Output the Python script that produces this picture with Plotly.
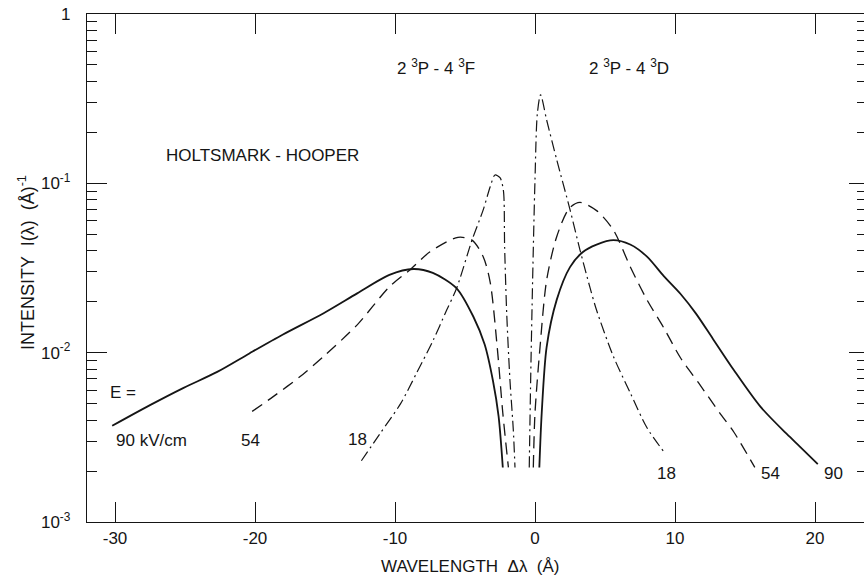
import plotly.graph_objects as go

# Holtsmark-Hooper profiles of the He I 2 3P - 4 3F / 2 3P - 4 3D pair
# wavelength offset (Angstrom) and intensity (1/Angstrom), one branch per component

# E = 90 kV/cm (solid)
x90_f = [-30.2, -27.5, -25.1, -22.7, -20.4, -18.0, -15.1, -12.7, -10.4, -8.7, -7.3, -5.6, -4.4, -3.6, -3.0, -2.6, -2.3]
i90_f = [0.0037, 0.0049, 0.0062, 0.0077, 0.0099, 0.0128, 0.0171, 0.0224, 0.0288, 0.0312, 0.0296, 0.0240, 0.0163, 0.0112, 0.0068, 0.0042, 0.0021]
x90_d = [0.31, 0.48, 0.83, 1.55, 2.5, 3.4, 4.4, 5.6, 6.8, 8.0, 9.2, 10.4, 11.5, 12.7, 14.2, 16.1, 18.0, 18.9, 20.2]
i90_d = [0.0021, 0.0044, 0.0108, 0.0205, 0.0320, 0.0392, 0.0435, 0.0462, 0.0435, 0.0369, 0.0283, 0.0222, 0.0170, 0.0121, 0.0079, 0.0048, 0.0033, 0.0028, 0.0022]

# E = 54 kV/cm (dashed)
x54_f = [-20.2, -18.7, -16.8, -15.1, -12.7, -10.4, -8.9, -7.5, -5.5, -4.5, -3.7, -3.2, -2.7, -2.3, -1.9]
i54_f = [0.0045, 0.0055, 0.0072, 0.0095, 0.0146, 0.0245, 0.0310, 0.0394, 0.0480, 0.0462, 0.0369, 0.0260, 0.0108, 0.0044, 0.0021]
x54_d = [-0.12, 0.0, 0.36, 0.83, 1.55, 2.45, 3.21, 4.4, 5.6, 6.8, 8.0, 9.2, 10.4, 11.7, 13.2, 14.2, 15.7]
i54_d = [0.0021, 0.0044, 0.0108, 0.0268, 0.0484, 0.0713, 0.0772, 0.0690, 0.0530, 0.0322, 0.0205, 0.0140, 0.0093, 0.0066, 0.0044, 0.0034, 0.0021]

# E = 18 kV/cm (dash-dot)
x18_f = [-12.4, -11.1, -9.6, -8.45, -7.26, -6.3, -5.6, -4.5, -3.7, -3.2, -2.86, -2.5, -2.26, -2.17, -2.02, -1.79, -1.55, -1.43]
i18_f = [0.0023, 0.0033, 0.0050, 0.0076, 0.0119, 0.0179, 0.0240, 0.0462, 0.0697, 0.0955, 0.112, 0.108, 0.0912, 0.0423, 0.0170, 0.0069, 0.0035, 0.0021]
x18_d = [-0.41, -0.31, -0.17, 0.0, 0.17, 0.4, 0.83, 1.55, 2.5, 3.21, 3.93, 4.4, 5.6, 6.8, 8.0, 9.2]
i18_d = [0.0021, 0.0069, 0.0268, 0.105, 0.259, 0.333, 0.237, 0.138, 0.0700, 0.0405, 0.0242, 0.0178, 0.0095, 0.0058, 0.0036, 0.0026]

x_ticks = [-30, -20, -10, 0, 10, 20]
x_tick_text = ["-30", "-20", "-10", "0", "10", "20"]
y_ticks = [0.001, 0.01, 0.1, 1]
y_tick_text = ["10<sup>-3</sup>", "10<sup>-2</sup>", "10<sup>-1</sup>", "1"]
y_minor = [k * 10.0 ** n for n in (-3, -2, -1) for k in range(2, 10)]

INK = "#151515"
FONT = "Liberation Sans"
SIZE = 17

styles = {
    "90": dict(color=INK, width=1.8, dash="solid"),
    "54": dict(color=INK, width=1.3, dash="12px,7px"),
    "18": dict(color=INK, width=1.2, dash="11px,4px,2px,4px"),
}
branches = [
    ("90", x90_f, i90_f), ("90", x90_d, i90_d),
    ("54", x54_f, i54_f), ("54", x54_d, i54_d),
    ("18", x18_f, i18_f), ("18", x18_d, i18_d),
]

fig = go.Figure()
for field, xs, ys in branches:
    fig.add_trace(go.Scatter(
        x=xs, y=ys, mode="lines", name=f"{field} kV/cm",
        line=dict(shape="spline", smoothing=0.8, **styles[field]),
        showlegend=False, hoverinfo="skip",
    ))

# right-hand frame: tick marks only, on an overlaid log axis
fig.add_trace(go.Scatter(x=[x_ticks[0]], y=[y_ticks[0]], yaxis="y2", mode="lines",
                         showlegend=False, hoverinfo="skip", line=dict(width=0)))

def label(text, x, logy, **kw):
    fig.add_annotation(text=text, x=x, y=logy, xref="x", yref="y",
                       xanchor="center", yanchor="middle", showarrow=False,
                       font=dict(family=FONT, size=SIZE, color=INK), **kw)

label("HOLTSMARK - HOOPER", -19.5, -0.833)
label("2 <sup>3</sup>P - 4 <sup>3</sup>F", -7.1, -0.313)
label("2 <sup>3</sup>P - 4 <sup>3</sup>D", 6.7, -0.313)
label("E =", -29.4, -2.238)
label("90 kV/cm", -27.4, -2.516)
label("54", -20.3, -2.516)
label("18", -12.7, -2.51)
label("18", 9.36, -2.711)
label("54", 16.8, -2.711)
label("90", 21.3, -2.711)

fig.add_annotation(text="WAVELENGTH  \u0394\u03bb  (\u00c5)", x=(470 - 87) / 777, y=(522 - 566) / 508,
                   xref="paper", yref="paper", xanchor="center", yanchor="middle", showarrow=False,
                   font=dict(family=FONT, size=SIZE, color=INK))
fig.add_annotation(text="INTENSITY  I(\u03bb)  (\u00c5)<sup>-1</sup>", x=(26 - 87) / 777, y=(522 - 262) / 508,
                   xref="paper", yref="paper", xanchor="center", yanchor="middle", showarrow=False,
                   textangle=-90, font=dict(family=FONT, size=SIZE + 1, color=INK))

fig.update_xaxes(
    range=[-32.0, 23.5], tickmode="array", tickvals=x_ticks, ticktext=x_tick_text,
    ticks="inside", ticklen=20, tickwidth=1, tickcolor=INK,
    showline=True, linecolor=INK, linewidth=1.3, mirror="ticks",
    showgrid=False, zeroline=False, ticklabelstandoff=0,
    tickfont=dict(family=FONT, size=SIZE, color=INK),
)
fig.update_layout(
    yaxis=dict(
        type="log", range=[-3, 0], tickmode="array", tickvals=y_ticks, ticktext=y_tick_text,
        ticks="inside", ticklen=20, tickwidth=1, tickcolor=INK,
        minor=dict(tickmode="array", tickvals=y_minor, ticks="inside", ticklen=10,
                   tickwidth=1, tickcolor=INK, showgrid=False),
        showline=True, linecolor=INK, linewidth=1.3, mirror=False,
        showgrid=False, zeroline=False, ticklabelstandoff=12,
        tickfont=dict(family=FONT, size=SIZE, color=INK),
    ),
    yaxis2=dict(
        type="log", range=[-3, 0], overlaying="y", side="right", anchor="x",
        tickmode="array", tickvals=y_ticks, showticklabels=False,
        ticks="inside", ticklen=15, tickwidth=1, tickcolor=INK,
        minor=dict(tickmode="array", tickvals=y_minor, ticks="inside", ticklen=7,
                   tickwidth=1, tickcolor=INK, showgrid=False),
        showline=False, showgrid=False, zeroline=False,
    ),
    width=864, height=579, autosize=False,
    margin=dict(l=87, r=0, t=14, b=57, pad=0),
    paper_bgcolor="white", plot_bgcolor="white",
    font=dict(family=FONT, size=SIZE, color=INK),
)

fig.write_html("out.html")
